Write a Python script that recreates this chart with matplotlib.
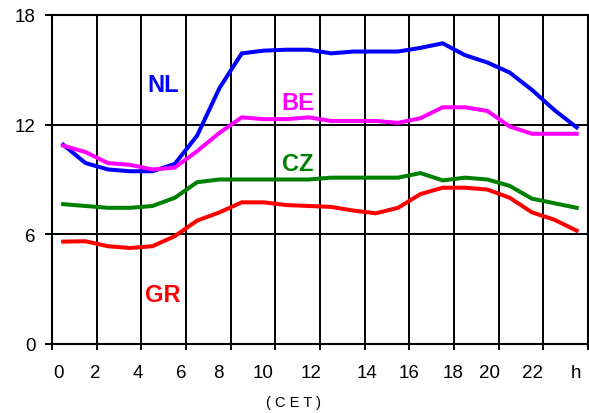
import matplotlib
matplotlib.use("Agg")
import matplotlib.pyplot as plt
import numpy as np

plt.rcParams['font.family'] = ['Liberation Sans', 'DejaVu Sans']

hours = np.arange(24) + 0.5
nl = [10.9, 9.9, 9.55, 9.45, 9.45, 9.85, 11.4, 14.0, 15.9, 16.05, 16.1, 16.1,
      15.9, 16.0, 16.0, 16.0, 16.2, 16.45, 15.8, 15.4, 14.85, 13.9, 12.8, 11.85]
be = [10.85, 10.5, 9.9, 9.8, 9.55, 9.65, 10.55, 11.55, 12.4, 12.3, 12.3, 12.4,
      12.2, 12.2, 12.2, 12.1, 12.35, 12.95, 12.95, 12.75, 11.9, 11.5, 11.5, 11.5]
cz = [7.65, 7.55, 7.45, 7.45, 7.55, 8.0, 8.85, 9.0, 9.0, 9.0, 9.0, 9.0,
      9.1, 9.1, 9.1, 9.1, 9.35, 8.95, 9.1, 9.0, 8.65, 7.95, 7.7, 7.45]
gr = [5.6, 5.62, 5.35, 5.25, 5.35, 5.9, 6.75, 7.2, 7.75, 7.75, 7.6, 7.55,
      7.5, 7.3, 7.15, 7.45, 8.2, 8.55, 8.55, 8.45, 8.0, 7.2, 6.8, 6.2]

x_labels = ["0", "2", "4", "6", "8", "10", "12", "14", "16", "18", "20", "22", "h"]
x_label_pos = [0.27, 1.93, 3.86, 5.78, 7.44, 9.46, 11.61, 14.12, 16.0, 17.98, 19.6, 21.5, 23.45]
y_ticks = [0, 6, 12, 18]

fig = plt.figure(figsize=(5.89, 4.14), dpi=100)
ax = fig.add_axes([0.0883, 0.1667, 0.9097, 0.7947])

ax.set_xlim(0, 24)
ax.set_ylim(0, 18)

for xv in range(2, 24, 2):
    ax.axvline(xv, color='black', lw=1.4, zorder=1)
for yv in [6, 12]:
    ax.axhline(yv, color='black', lw=1.4, zorder=1)

series = [(nl, '#0000FF', 'NL', 5.0, 14.2),
          (be, '#FF00FF', 'BE', 11.0, 13.2),
          (cz, '#008000', 'CZ', 11.0, 9.9),
          (gr, '#FF0000', 'GR', 4.95, 2.7)]
for vals, col, name, lx, ly in series:
    ax.plot(hours, vals, color=col, lw=2.9, zorder=3, solid_joinstyle='miter')
    ax.text(lx, ly, name, color=col, fontsize=17, fontweight='bold',
            ha='center', va='center', zorder=4)

for s in ax.spines.values():
    s.set_linewidth(1.5)
    s.set_color('black')

ax.set_yticks(y_ticks)
ax.set_yticklabels([str(v) for v in y_ticks], fontsize=13.5)
ax.tick_params(axis='y', length=5, width=1.4, pad=7)

ax.set_xticks(np.arange(0, 25, 2))
ax.set_xticklabels([])
ax.tick_params(axis='x', which='major', length=4.5, width=1.4)
for pos, lab in zip(x_label_pos, x_labels):
    ax.text(pos, -0.088, lab, transform=ax.get_xaxis_transform(),
            fontsize=13.5, ha='center', va='center')

fig.text(294 / 589, 1 - 403 / 414, "( C E T )", fontsize=10.5,
         ha='center', va='center')

fig.savefig("out.png", dpi=100)
